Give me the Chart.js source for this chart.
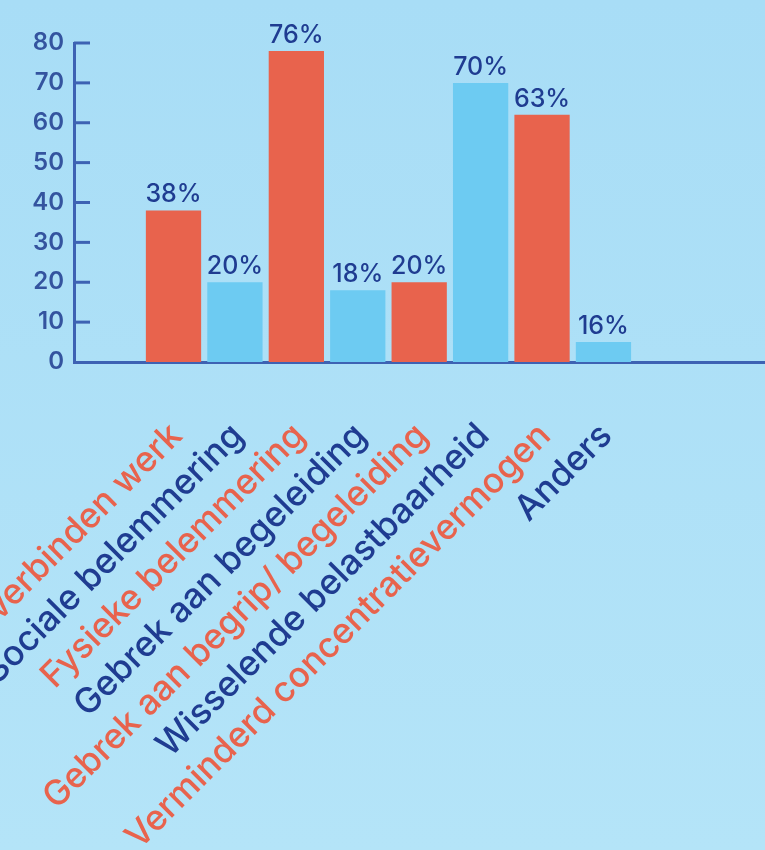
<!DOCTYPE html>
<html>
<head>
<meta charset="utf-8">
<script src="https://cdn.jsdelivr.net/npm/chart.js@4"></script>
<style>
html,body{margin:0;padding:0;}
body{width:765px;height:850px;background:linear-gradient(#a8ddf6,#b4e4f8);overflow:hidden;}
#wrap{width:765px;height:850px;position:relative;}
</style>
</head>
<body>
<div id="wrap"><canvas id="chart" width="765" height="850"></canvas></div>
<script>

// ===== DATA =====
let categories = [
"Moeilijk te verbinden werk",
"Sociale belemmering",
"Fysieke belemmering",
"Gebrek aan begeleiding",
"Gebrek aan begrip/ begeleiding",
"Wisselende belastbaarheid",
"Verminderd concentratievermogen",
"Anders"
];
// bar heights as drawn
let barValues = [38, 20, 78, 18, 20, 70, 62, 5];
// labels printed above the bars
let barLabels = ["38%","20%","76%","18%","20%","70%","63%","16%"];
let yTicks = [0,10,20,30,40,50,60,70,80];

let RED = "#e8634d";
let BLUE = "#6dcbf2";
let DARK = "#1f3c91";
let AXIS = "#3d62b3";
let FONT = "Inter, 'Liberation Sans', Arial, sans-serif";

let barColors = categories.map((c,i)=> i%2===0 ? RED : BLUE);
let labelColors = categories.map((c,i)=> i%2===0 ? RED : DARK);


/* ================= PLUGIN: labels ================= */
let labelPlugin = {
id:"labelPlugin",
afterDraw(chart){
let ctx = chart.ctx;
let xs = chart.scales.x;
let ys = chart.scales.y;
let meta = chart.getDatasetMeta(0);

// small tick marks on the inside of the y axis
ctx.save();
ctx.strokeStyle = AXIS;
ctx.lineWidth = 3;
yTicks.forEach(v=>{
if(v===0) return;
let y = ys.getPixelForValue(v);
ctx.beginPath();
ctx.moveTo(xs.left, y);
ctx.lineTo(xs.left+16, y);
ctx.stroke();
});
ctx.restore();

// value labels above bars
ctx.save();
ctx.fillStyle = DARK;
ctx.font = "500 25px " + FONT;
ctx.textAlign = "center";
ctx.textBaseline = "alphabetic";
meta.data.forEach((bar,i)=>{
ctx.fillText(barLabels[i], bar.x, bar.y - 8);
});
ctx.restore();

// rotated category labels
ctx.save();
ctx.font = "500 35px " + FONT;
ctx.textAlign = "right";
ctx.textBaseline = "middle";
categories.forEach((c,i)=>{
let x = xs.getPixelForValue(i);
ctx.save();
ctx.translate(x + 3, ys.bottom + 68);
ctx.rotate(-Math.PI/4);
ctx.fillStyle = labelColors[i];
ctx.fillText(c, 0, 0);
ctx.restore();
});
ctx.restore();
}
};


/* ================= CHART ================= */
new Chart(document.getElementById("chart"), {
type:"bar",
data:{
datasets:[{
data: barValues.map((v,i)=>({x:i, y:v})),
backgroundColor: barColors,
borderWidth: 0,
categoryPercentage: 0.9,
barPercentage: 1
}]
},
options:{
responsive:false,
animation:false,
events:[],
layout:{ padding:{ top:43, right:0, left:0, bottom:0 } },
plugins:{ legend:{display:false}, tooltip:{enabled:false} },
scales:{
x:{
type:"linear",
offset:false,
min:-1.62,
max:9.63,
grid:{display:false, drawTicks:false, offset:false},
ticks:{display:false},
border:{display:true, color:AXIS, width:3},
afterFit:s=>{ s.height = 850 - 362; }
},
y:{
min:0,
max:80,
afterBuildTicks:s=>{ s.ticks = yTicks.map(v=>({value:v})); },
grid:{display:false, drawTicks:false},
border:{display:true, color:AXIS, width:3},
ticks:{
color:"#34549f",
padding:10,
font:{ family:FONT, size:24, weight:"600" }
},
afterFit:s=>{ s.width = 74; }
}
}
},
plugins:[labelPlugin]
});

</script>
</body>
</html>
